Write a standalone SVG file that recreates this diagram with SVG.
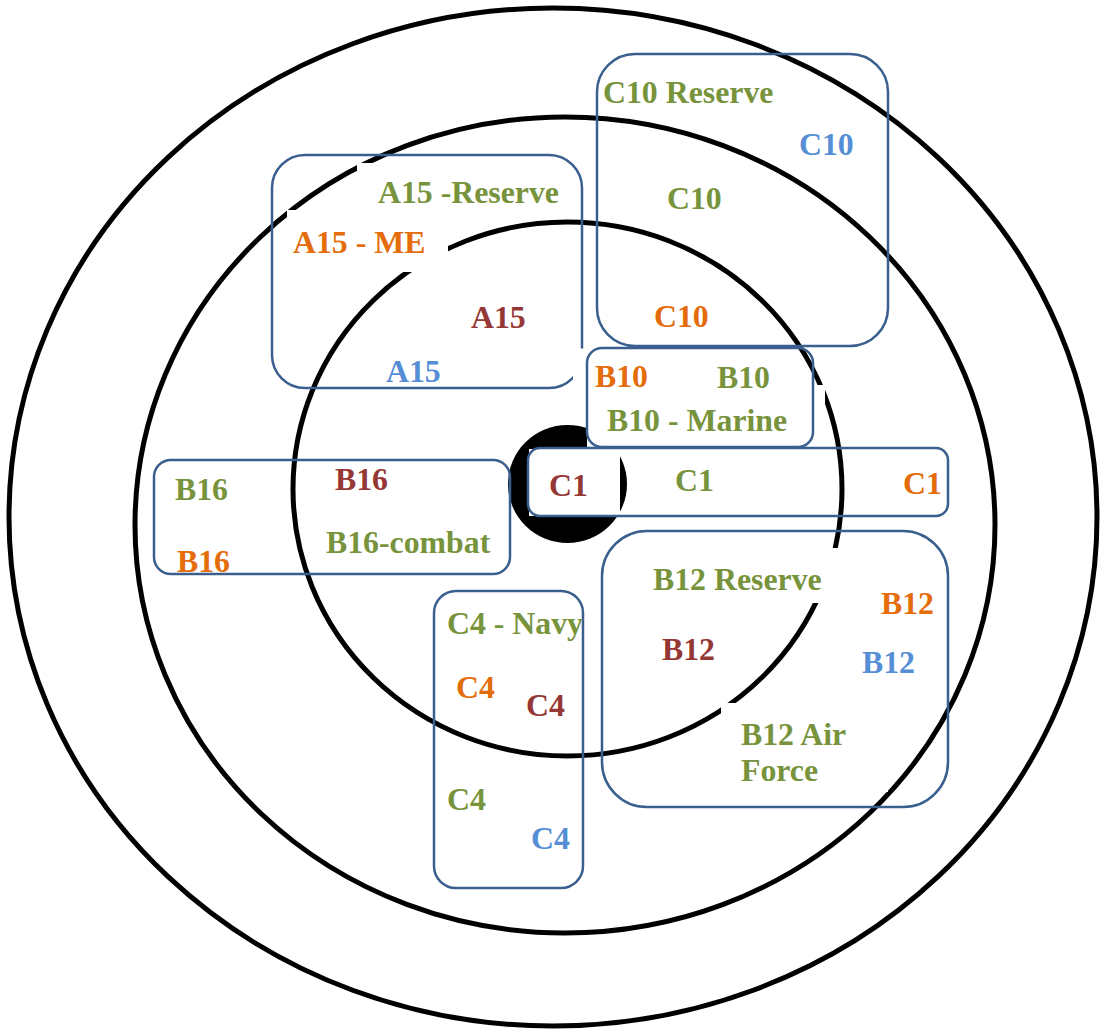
<svg xmlns="http://www.w3.org/2000/svg" width="1102" height="1030" viewBox="0 0 1102 1030">
  <style>
    .ring { fill: none; stroke: #000; stroke-width: 5; }
    .box { fill: none; stroke: #3A5F8E; stroke-width: 2.5; }
    .mask { fill: #fff; stroke: none; }
    text { font-family: "Liberation Serif", "Times New Roman", serif; font-weight: bold; font-size: 31.8px; }
    .g { fill: #77933C; }
    .o { fill: #E46C0A; }
    .r { fill: #953735; }
    .b { fill: #558ED5; }
  </style>

  <rect width="1102" height="1030" fill="#fff"/>

  <!-- concentric rings and the solid centre -->
  <g id="rings">
    <ellipse class="ring" cx="553" cy="517" rx="544" ry="509" stroke-width="4.5"/>
    <ellipse class="ring" cx="565" cy="525" rx="430" ry="408"/>
    <ellipse class="ring" cx="567.5" cy="489" rx="274.5" ry="267"/>
    <ellipse cx="567.5" cy="484" rx="59.5" ry="59" fill="#000"/>
  </g>

  <!-- A15 frame sits under the label backgrounds -->
  <rect class="box" x="272" y="155" width="310" height="233" rx="33"/>

  <!-- white label backgrounds that break the ring lines -->
  <g id="label-backgrounds">
    <rect class="mask" x="357" y="163" width="210" height="48"/>
    <rect class="mask" x="287" y="210" width="161" height="62"/>
    <rect class="mask" x="573" y="348.5" width="87" height="44"/>
    <rect class="mask" x="587" y="385" width="238" height="62"/>
    <rect class="mask" x="529" y="449" width="91" height="67"/>
    <rect class="mask" x="640" y="548" width="200" height="55"/>
    <rect class="mask" x="721" y="703" width="167" height="89"/>
  </g>

  <g id="node-a15">
    <text class="g" x="378" y="203">A15 -Reserve</text>
    <text class="o" x="293" y="253">A15 - ME</text>
    <text class="r" x="471" y="328">A15</text>
    <text class="b" x="386" y="382">A15</text>
  </g>

  <g id="node-c10">
    <rect class="box" x="597" y="54" width="291" height="292" rx="38"/>
    <text class="g" x="603" y="103">C10 Reserve</text>
    <text class="b" x="799" y="155">C10</text>
    <text class="g" x="667" y="209">C10</text>
    <text class="o" x="654" y="327">C10</text>
  </g>

  <g id="node-b10">
    <rect class="box" x="587" y="348" width="226" height="99" rx="15"/>
    <text class="o" x="595" y="387">B10</text>
    <text class="g" x="717" y="388">B10</text>
    <text class="g" x="607" y="431">B10 - Marine</text>
  </g>

  <g id="node-c1">
    <rect class="box" x="528" y="448" width="420" height="68" rx="12"/>
    <text class="r" x="549" y="496">C1</text>
    <text class="g" x="675" y="491">C1</text>
    <text class="o" x="903" y="494">C1</text>
  </g>

  <g id="node-b16">
    <rect class="box" x="154" y="460" width="356" height="114" rx="17"/>
    <text class="g" x="175" y="500">B16</text>
    <text class="r" x="335" y="490">B16</text>
    <text class="o" x="177" y="572">B16</text>
    <text class="g" x="326" y="553">B16-combat</text>
  </g>

  <g id="node-c4">
    <rect class="box" x="434" y="591" width="149" height="297" rx="22"/>
    <text class="g" x="447" y="634">C4 - Navy</text>
    <text class="o" x="456" y="698">C4</text>
    <text class="r" x="526" y="716">C4</text>
    <text class="g" x="447" y="810">C4</text>
    <text class="b" x="531" y="849">C4</text>
  </g>

  <g id="node-b12">
    <rect class="box" x="602" y="531" width="346" height="276" rx="45"/>
    <text class="g" x="653" y="590">B12 Reserve</text>
    <text class="o" x="881" y="614">B12</text>
    <text class="r" x="662" y="660">B12</text>
    <text class="b" x="862" y="673">B12</text>
    <text class="g" x="741" y="745">B12 Air</text>
    <text class="g" x="741" y="781">Force</text>
  </g>
</svg>
